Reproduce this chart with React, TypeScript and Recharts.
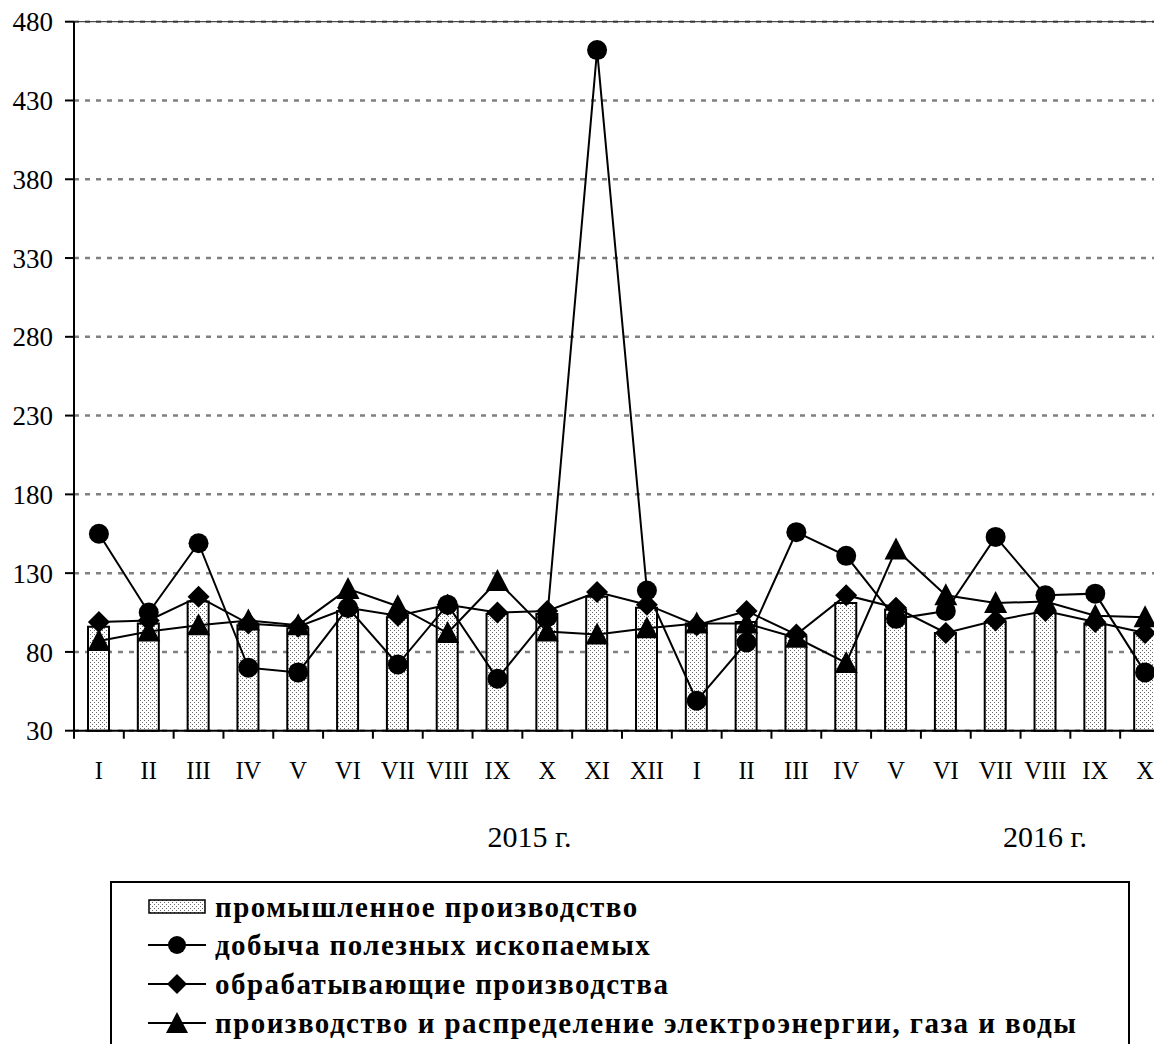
import React from 'react';
import { ComposedChart, Bar, Line, XAxis, YAxis, CartesianGrid, ReferenceLine, Legend } from 'recharts';

const months = ['I', 'II', 'III', 'IV', 'V', 'VI', 'VII', 'VIII', 'IX', 'X', 'XI', 'XII', 'I', 'II', 'III', 'IV', 'V', 'VI', 'VII', 'VIII', 'IX', 'X'];
const industry = [96, 98, 112, 97, 95, 106, 102, 108, 104, 104, 115, 108, 98, 99, 90, 111, 107, 92, 99, 105, 98, 92];
const mining = [155, 105, 149, 70, 67, 108, 72, 110, 63, 102, 462, 119, 49, 86, 156, 141, 101, 106, 153, 116, 117, 67];
const manufacturing = [99, 100, 115, 98, 96, 108, 103, 110, 105, 106, 118, 110, 97, 106, 91, 116, 108, 92, 100, 106, 99, 92];
const power = [87, 93, 97, 100, 97, 120, 109, 92, 125, 93, 91, 95, 98, 98, 89, 73, 145, 116, 111, 112, 103, 102];
const yTicks = [30, 80, 130, 180, 230, 280, 330, 380, 430, 480];
const yearLabels = ['2015 г.', '2016 г.'];
const seriesNames = [
  'промышленное производство',
  'добыча полезных ископаемых',
  'обрабатывающие производства',
  'производство и распределение электроэнергии, газа и воды',
];

const data = months.map((m, i) => ({
  idx: String(i),
  month: m,
  industry: industry[i],
  mining: mining[i],
  manufacturing: manufacturing[i],
  power: power[i],
}));

const FONT = "'Liberation Serif', 'Times New Roman', serif";
const CHART_W = 1162;
const CHART_H = 1036;
const MARGIN = { top: 13.7, right: 0, bottom: 213.3, left: 10 };
const Y_AXIS_W = 56;
const X_AXIS_H = 100;
const BAND = (CHART_W - MARGIN.left - MARGIN.right - Y_AXIS_W) / months.length;

const XTick = (props: any) => {
  const { x, y, payload } = props;
  const label = months[Number(payload.value)];
  return (
    <g>
      <line x1={x - BAND / 2} x2={x - BAND / 2} y1={y} y2={y + 8} stroke="#000" strokeWidth={2} />
      <text x={x} y={y + 40} textAnchor="middle" dominantBaseline="central" fontFamily={FONT} fontSize={24.5} fill="#000">
        {label}
      </text>
    </g>
  );
};

const CircleDot = (props: any) => {
  const { cx, cy } = props;
  if (cx == null || cy == null) return null;
  return <circle cx={cx} cy={cy} r={10} fill="#000" />;
};
const DiamondDot = (props: any) => {
  const { cx, cy } = props;
  if (cx == null || cy == null) return null;
  const s = 11;
  return <polygon points={`${cx},${cy - s} ${cx + s},${cy} ${cx},${cy + s} ${cx - s},${cy}`} fill="#000" />;
};
const TriangleDot = (props: any) => {
  const { cx, cy } = props;
  if (cx == null || cy == null) return null;
  return <polygon points={`${cx},${cy - 12} ${cx + 11.5},${cy + 10} ${cx - 11.5},${cy + 10}`} fill="#000" />;
};

const LegendIcon = ({ kind }: { kind: number }) => (
  <svg width={58} height={26} style={{ display: 'block', flex: '0 0 auto' }}>
    {kind === 0 ? (
      <rect x={1} y={6} width={56} height={13} fill="url(#dotsLegend)" stroke="#000" strokeWidth={1.5} />
    ) : (
      <>
        <line x1={0} x2={58} y1={13} y2={13} stroke="#000" strokeWidth={2} />
        {kind === 1 && <circle cx={29} cy={13} r={9} fill="#000" />}
        {kind === 2 && <polygon points="29,3 39,13 29,23 19,13" fill="#000" />}
        {kind === 3 && <polygon points="29,2 40,23 18,23" fill="#000" />}
      </>
    )}
  </svg>
);

const rowTops = [5, 43, 82, 121];

const LegendContent = () => (
  <div
    style={{
      position: 'relative',
      width: 1020,
      height: 200,
      border: '2px solid #000',
      boxSizing: 'border-box',
      background: '#fff',
    }}
  >
    <svg width={0} height={0} style={{ position: 'absolute' }}>
      <defs>
        <pattern id="dotsLegend" width={4} height={4} patternUnits="userSpaceOnUse">
          <rect width={4} height={4} fill="#fff" />
          <rect x={0} y={0} width={1} height={1} fill="#666" />
          <rect x={2} y={2} width={1} height={1} fill="#666" />
        </pattern>
      </defs>
    </svg>
    {seriesNames.map((name, i) => (
      <div
        key={i}
        style={{
          position: 'absolute',
          left: 36,
          top: rowTops[i],
          height: 38,
          display: 'flex',
          alignItems: 'center',
          whiteSpace: 'nowrap',
        }}
      >
        <LegendIcon kind={i} />
        <span
          style={{
            marginLeft: 9,
            fontFamily: FONT,
            fontWeight: 'bold',
            fontSize: 29,
            letterSpacing: 1.45,
            color: '#000',
          }}
        >
          {name}
        </span>
      </div>
    ))}
  </div>
);

const yearStyle = {
  position: 'absolute' as const,
  top: 810.7,
  width: 160,
  lineHeight: '36px',
  textAlign: 'center' as const,
  fontFamily: FONT,
  fontSize: 30,
  color: '#000',
};

export default function App() {
  return (
    <div style={{ position: 'relative', width: 1154, height: 1036, overflow: 'hidden', background: '#fff' }}>
      <ComposedChart width={CHART_W} height={CHART_H} data={data} margin={MARGIN}>
        <defs>
          <pattern id="dots" width={4} height={4} patternUnits="userSpaceOnUse">
            <rect width={4} height={4} fill="#fff" />
            <rect x={0} y={0} width={1} height={1} fill="#666" />
            <rect x={2} y={2} width={1} height={1} fill="#666" />
          </pattern>
        </defs>
        <CartesianGrid vertical={false} stroke="#808080" strokeWidth={2.5} strokeDasharray="5 6" />
        <ReferenceLine y={480} stroke="#222" strokeWidth={1} />
        <XAxis
          dataKey="idx"
          type="category"
          interval={0}
          height={X_AXIS_H}
          tickSize={0}
          tickMargin={0}
          tickLine={false}
          axisLine={{ stroke: '#000', strokeWidth: 2 }}
          tick={<XTick />}
        />
        <YAxis
          type="number"
          domain={[30, 480]}
          ticks={yTicks}
          interval={0}
          width={Y_AXIS_W}
          tickSize={9}
          tickMargin={12}
          tickLine={{ stroke: '#000', strokeWidth: 2 }}
          axisLine={{ stroke: '#000', strokeWidth: 2 }}
          tick={{ fontFamily: FONT, fontSize: 27, fill: '#000' }}
        />
        <Bar
          dataKey="industry"
          name={seriesNames[0]}
          barSize={21}
          fill="url(#dots)"
          stroke="#000"
          strokeWidth={2}
          isAnimationActive={false}
        />
        <Line
          dataKey="mining"
          name={seriesNames[1]}
          stroke="#000"
          strokeWidth={2}
          dot={<CircleDot />}
          activeDot={false}
          isAnimationActive={false}
        />
        <Line
          dataKey="manufacturing"
          name={seriesNames[2]}
          stroke="#000"
          strokeWidth={2}
          dot={<DiamondDot />}
          activeDot={false}
          isAnimationActive={false}
        />
        <Line
          dataKey="power"
          name={seriesNames[3]}
          stroke="#000"
          strokeWidth={2}
          dot={<TriangleDot />}
          activeDot={false}
          isAnimationActive={false}
        />
        <Legend
          layout="vertical"
          align="center"
          verticalAlign="middle"
          content={<LegendContent />}
          wrapperStyle={{ left: 102, top: 873, width: 1020, height: 200 }}
        />
      </ComposedChart>
      <div style={{ ...yearStyle, left: 521.5 - 80 }}>{yearLabels[0]}</div>
      <div style={{ ...yearStyle, left: 1037 - 80 }}>{yearLabels[1]}</div>
    </div>
  );
}
